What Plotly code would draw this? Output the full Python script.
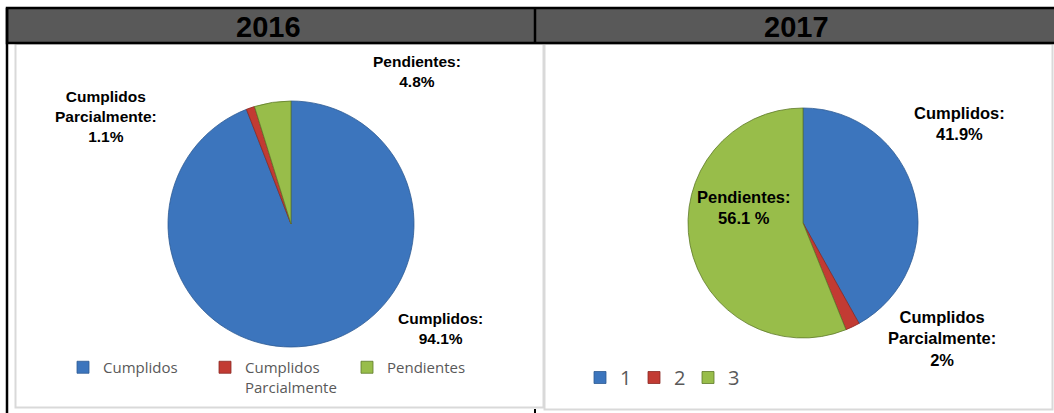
import plotly.graph_objects as go

W, H = 1054, 413

years = ["2016", "2017"]
legend_2016 = ["Cumplidos", "Cumplidos<br>Parcialmente", "Pendientes"]
values_2016 = [94.1, 1.1, 4.8]
legend_2017 = ["1", "2", "3"]
values_2017 = [41.9, 2.0, 56.1]
names_2016 = ["Cumplidos:", "Cumplidos<br>Parcialmente:", "Pendientes:"]
names_2017 = ["Cumplidos:", "Cumplidos<br>Parcialmente:", "Pendientes:"]
pct_2016 = ["94.1%", "1.1%", "4.8%"]
pct_2017 = ["41.9%", "2%", "56.1 %"]

colors = ["#3c75bd", "#c23b33", "#98bd4a"]
edge = ["#2d5a93", "#8a2823", "#5e7a28"]


def px(x):
    return x / W


def py(y):
    return 1 - y / H


fig = go.Figure()

fig.add_trace(go.Pie(
    labels=legend_2016, values=values_2016, sort=False, direction="clockwise",
    rotation=0, textinfo="none", hoverinfo="label+percent",
    marker=dict(colors=colors, line=dict(color=edge, width=0.8)),
    domain=dict(x=[px(168), px(414)], y=[py(347), py(101)]),
    legend="legend", showlegend=True,
))
fig.add_trace(go.Pie(
    labels=legend_2017, values=values_2017, sort=False, direction="clockwise",
    rotation=0, textinfo="none", hoverinfo="label+percent",
    marker=dict(colors=colors, line=dict(color=edge, width=0.8)),
    domain=dict(x=[px(688), px(918)], y=[py(338), py(108)]),
    legend="legend2", showlegend=True,
))

shapes = []
# chart area boxes
shapes.append(dict(type="rect", xref="paper", yref="paper", x0=px(15.5), x1=px(543.5),
                   y0=py(407.5), y1=py(44), line=dict(color="#d9d9d9", width=2), fillcolor="white", layer="below"))
shapes.append(dict(type="rect", xref="paper", yref="paper", x0=px(544.5), x1=px(1052.5),
                   y0=py(409.5), y1=py(44), line=dict(color="#d9d9d9", width=2), fillcolor="white", layer="below"))
# header band
shapes.append(dict(type="rect", xref="paper", yref="paper", x0=px(7), x1=px(1056),
                   y0=py(43), y1=py(8), line=dict(color="black", width=2.5), fillcolor="#595959"))
# table lines
shapes.append(dict(type="line", xref="paper", yref="paper", x0=px(7), x1=px(7),
                   y0=py(413), y1=py(8), line=dict(color="black", width=2.5)))
shapes.append(dict(type="line", xref="paper", yref="paper", x0=px(535), x1=px(535),
                   y0=py(43), y1=py(8), line=dict(color="black", width=2.5)))
shapes.append(dict(type="line", xref="paper", yref="paper", x0=px(535), x1=px(535),
                   y0=py(413), y1=py(409), line=dict(color="black", width=2)))

annotations = []
for yr, cx in zip(years, [268, 796]):
    annotations.append(dict(text=yr, x=px(cx), y=py(26.5), xref="paper", yref="paper",
                            showarrow=False, xanchor="center", yanchor="middle",
                            font=dict(family="Liberation Sans", size=29, color="black", weight="bold")))

pos_2016 = [(440, 328), (106, 116), (417, 71)]
pos_2017 = [(959, 123), (942, 338), (744, 207)]
for n, p, (cx, cy) in zip(names_2016, pct_2016, pos_2016):
    annotations.append(dict(text=f"<b>{n}<br>{p}</b>", x=px(cx), y=py(cy), xref="paper", yref="paper",
                            showarrow=False, xanchor="center", yanchor="middle", align="center",
                            font=dict(family="Liberation Sans", size=15.5, color="black")))
for n, p, (cx, cy) in zip(names_2017, pct_2017, pos_2017):
    annotations.append(dict(text=f"<b>{n}<br>{p}</b>", x=px(cx), y=py(cy), xref="paper", yref="paper",
                            showarrow=False, xanchor="center", yanchor="middle", align="center",
                            font=dict(family="Liberation Sans", size=16.5, color="black")))

fig.update_layout(
    width=W, height=H, margin=dict(l=0, r=0, t=0, b=0),
    paper_bgcolor="white", plot_bgcolor="white",
    shapes=shapes, annotations=annotations,
    legend=dict(orientation="h", x=px(63), y=py(351), xanchor="left", yanchor="top",
                valign="top", bgcolor="rgba(0,0,0,0)", entrywidth=97, entrywidthmode="pixels",
                font=dict(family="Open Sans", size=15, color="#595959")),
    legend2=dict(orientation="h", x=px(580), y=py(358), xanchor="left", yanchor="top",
                 valign="top", bgcolor="rgba(0,0,0,0)", entrywidth=9, entrywidthmode="pixels",
                 font=dict(family="Open Sans", size=20, color="#595959")),
)

fig.write_html("out.html")
